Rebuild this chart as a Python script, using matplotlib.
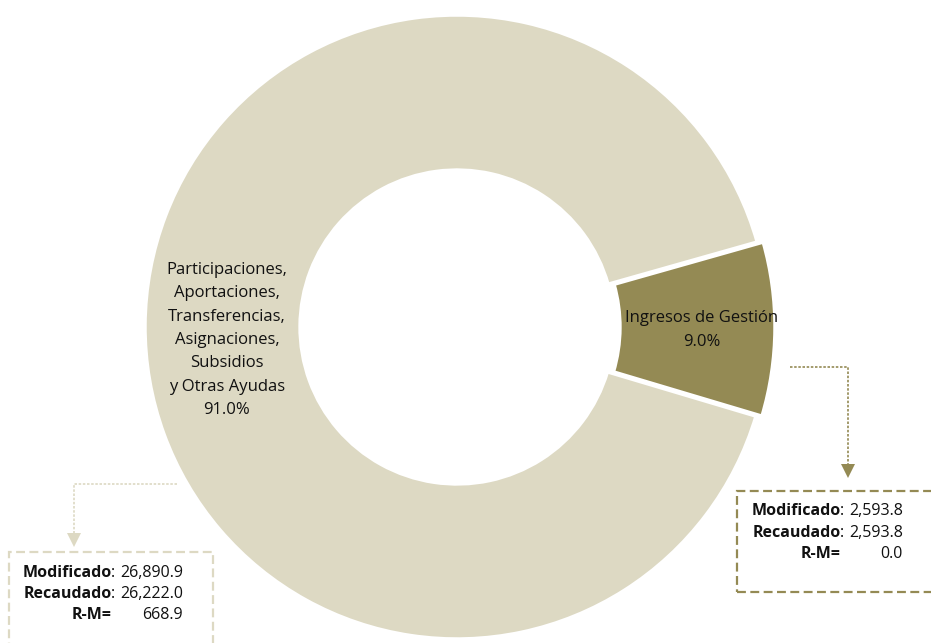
import numpy as np
import matplotlib.pyplot as plt
from matplotlib.patches import Rectangle

plt.rcParams['font.family'] = ['Open Sans', 'DejaVu Sans']

# Ingresos (millones de pesos)
rubros = ['Ingresos de Gestión',
          'Participaciones,\nAportaciones,\nTransferencias,\nAsignaciones,\nSubsidios\ny Otras Ayudas']
modificado = [2593.8, 26890.9]
recaudado = [2593.8, 26222.0]
colores = ['#948A54', '#DDD9C3']

W, H = 931, 643
fig = plt.figure(figsize=(W / 100, H / 100), dpi=100)
ax = fig.add_axes([0, 0, 1, 1])

def py(y):
    # coordenadas de pixel con origen arriba
    return H - y

total = sum(recaudado)
pct = [v / total * 100 for v in recaudado]

# explode va en unidades de datos (aqui pixeles)
cx, cy, r = 457, py(327), 312
ax.pie(recaudado, colors=colores, startangle=-16.6, counterclock=True,
       center=(cx, cy), radius=r, explode=[6, 0], frame=True,
       wedgeprops=dict(width=r * 0.497, edgecolor='white', linewidth=2.5))
ax.set_xlim(0, W)
ax.set_ylim(0, H)
ax.set_aspect('equal')
ax.axis('off')

txt = '#111111'
ax.text(702, py(330), f'{rubros[0]}\n{pct[0]:.1f}%', ha='center', va='center',
        fontsize=12, color=txt, linespacing=1.62)
ax.text(227, py(340), f'{rubros[1]}\n{pct[1]:.1f}%', ha='center', va='center',
        fontsize=12, color=txt, linespacing=1.62)

def callout(path, head, box, color, i, lab_x, val_x, rows_y):
    xs, ys = zip(*path)
    ax.plot(xs, [py(y) for y in ys], color=color, lw=1.2, ls=(0, (1.5, 1)))
    ax.plot(head[0], py(head[1]), marker='v', ms=10, color=color, mew=0)
    bx, by, bw, bh = box
    ax.add_patch(Rectangle((bx, py(by + bh)), bw, bh, fill=False, edgecolor=color,
                           lw=1.6, ls=(0, (4, 2))))
    filas = [('Modificado', ':', modificado[i]),
             ('Recaudado', ':', recaudado[i]),
             ('R-M=', '', modificado[i] - recaudado[i])]
    for (lab, sep, val), y in zip(filas, rows_y):
        ax.text(lab_x, py(y), lab, ha='right', va='center', fontsize=11.5,
                fontweight='bold', color=txt)
        if sep:
            ax.text(lab_x - 1, py(y), sep, ha='left', va='center', fontsize=11.5, color=txt)
        ax.text(val_x, py(y), f'{val:,.1f}', ha='right', va='center', fontsize=11.5, color=txt)

callout([(790, 367), (848, 367), (848, 466)], (848, 471), (737, 491, 220, 101),
        '#948A54', 0, 841, 903, [511, 533, 554])
callout([(177, 484), (74, 484), (74, 535)], (74, 540), (9, 552, 204, 120),
        '#DDD9C3', 1, 112, 183, [573, 594, 615])

fig.savefig('out.png', dpi=100)
